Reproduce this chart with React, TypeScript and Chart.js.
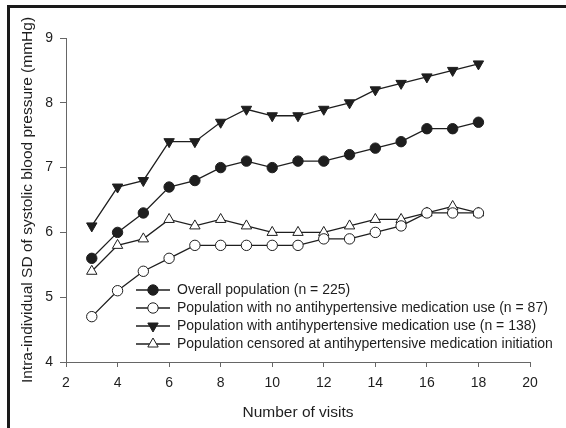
import React, { useEffect, useRef } from "react";
import { Chart, registerables } from "chart.js";

Chart.register(...registerables);

const visits = [3, 4, 5, 6, 7, 8, 9, 10, 11, 12, 13, 14, 15, 16, 17, 18];
const overall = [5.6, 6.0, 6.3, 6.7, 6.8, 7.0, 7.1, 7.0, 7.1, 7.1, 7.2, 7.3, 7.4, 7.6, 7.6, 7.7];
const noMed = [4.7, 5.1, 5.4, 5.6, 5.8, 5.8, 5.8, 5.8, 5.8, 5.9, 5.9, 6.0, 6.1, 6.3, 6.3, 6.3];
const withMed = [6.1, 6.7, 6.8, 7.4, 7.4, 7.7, 7.9, 7.8, 7.8, 7.9, 8.0, 8.2, 8.3, 8.4, 8.5, 8.6];
const censored = [5.4, 5.8, 5.9, 6.2, 6.1, 6.2, 6.1, 6.0, 6.0, 6.0, 6.1, 6.2, 6.2, 6.3, 6.4, 6.3];

const seriesLabels = [
  "Overall population (n = 225)",
  "Population with no antihypertensive medication use (n = 87)",
  "Population with antihypertensive medication use (n = 138)",
  "Population censored at antihypertensive medication initiation",
];

const xTitle = "Number of visits";
const yTitle = "Intra-individual SD of systolic blood pressure (mmHg)";

const FONT = "'Liberation Sans', Arial, sans-serif";
const INK = "#1e1e1e";

type Marker = { style: string; fill: string; radius: number; rotation: number };
const markers: Marker[] = [
  { style: "circle", fill: INK, radius: 5.2, rotation: 0 },
  { style: "circle", fill: "#ffffff", radius: 5.2, rotation: 0 },
  { style: "triangle", fill: INK, radius: 6, rotation: 180 },
  { style: "triangle", fill: "#ffffff", radius: 6, rotation: 0 },
];

function drawMarker(ctx: CanvasRenderingContext2D, m: Marker, x: number, y: number) {
  ctx.save();
  ctx.beginPath();
  if (m.style === "circle") {
    ctx.arc(x, y, m.radius, 0, Math.PI * 2);
  } else {
    const r = m.radius;
    const rot = (m.rotation * Math.PI) / 180;
    for (let i = 0; i < 3; i++) {
      const a = rot + (i * 2 * Math.PI) / 3;
      const px = x + Math.sin(a) * r;
      const py = y - Math.cos(a) * r;
      if (i === 0) ctx.moveTo(px, py);
      else ctx.lineTo(px, py);
    }
    ctx.closePath();
  }
  ctx.fillStyle = m.fill;
  ctx.fill();
  ctx.lineWidth = 1;
  ctx.strokeStyle = INK;
  ctx.stroke();
  ctx.restore();
}

const framePlugin = {
  id: "frameAndLegend",
  afterDraw(chart: any) {
    const ctx: CanvasRenderingContext2D = chart.ctx;
    ctx.save();
    // frame
    ctx.fillStyle = "#1a1a1a";
    ctx.fillRect(7, 5, 566 - 7, 3);
    ctx.fillRect(7, 5, 3, 428 - 5);
    // legend
    const rows = [290, 308, 326, 344];
    ctx.font = `14px ${FONT}`;
    ctx.textBaseline = "middle";
    ctx.textAlign = "left";
    seriesLabels.forEach((label, i) => {
      const y = rows[i];
      ctx.beginPath();
      ctx.moveTo(136, y);
      ctx.lineTo(170, y);
      ctx.strokeStyle = INK;
      ctx.lineWidth = 1.3;
      ctx.stroke();
      drawMarker(ctx, markers[i], 153, y);
      ctx.fillStyle = INK;
      ctx.fillText(label, 177, y + 0.5);
    });
    ctx.restore();
  },
};

export default function App() {
  const ref = useRef<HTMLCanvasElement>(null);
  useEffect(() => {
    document.body.style.margin = "0";
    const series = [overall, noMed, withMed, censored];
    const chart = new Chart(ref.current!, {
      type: "line",
      data: {
        datasets: series.map((vals, i) => ({
          label: seriesLabels[i],
          data: visits.map((v, j) => ({ x: v, y: vals[j] })),
          borderColor: INK,
          borderWidth: 1.3,
          pointStyle: markers[i].style as any,
          pointRadius: markers[i].radius,
          pointRotation: markers[i].rotation,
          pointBackgroundColor: markers[i].fill,
          pointBorderColor: INK,
          pointBorderWidth: 1,
          tension: 0,
          fill: false,
        })),
      },
      options: {
        animation: false,
        responsive: false,
        maintainAspectRatio: false,
        layout: { padding: { left: 0, top: 38, right: 36, bottom: 0 } },
        plugins: { legend: { display: false }, tooltip: { enabled: false } },
        scales: {
          x: {
            type: "linear",
            min: 2,
            max: 20,
            ticks: { stepSize: 2, color: INK, font: { family: FONT, size: 14 }, padding: 8 },
            grid: { drawOnChartArea: false, tickLength: 5, color: "#666", tickColor: "#666" },
            border: { color: "#666", width: 1 },
            title: {
              display: true,
              text: xTitle,
              color: INK,
              font: { family: FONT, size: 15.5 },
              padding: { top: 0, bottom: 6 },
            },
            afterFit: (s: any) => {
              s.height = 66;
            },
          },
          y: {
            min: 4,
            max: 9,
            ticks: { stepSize: 1, color: INK, font: { family: FONT, size: 14 }, padding: 7 },
            grid: { drawOnChartArea: false, tickLength: 6, color: "#666", tickColor: "#666" },
            border: { color: "#666", width: 1 },
            title: {
              display: true,
              text: yTitle,
              color: INK,
              font: { family: FONT, size: 15.5 },
              padding: { top: 18, bottom: 0 },
            },
            afterFit: (s: any) => {
              s.width = 66;
            },
          },
        },
      },
      plugins: [framePlugin],
    });
    return () => chart.destroy();
  }, []);
  return (
    <div style={{ position: "absolute", left: 0, top: 0, width: 566, height: 428, background: "#fff" }}>
      <canvas ref={ref} width={566} height={428} style={{ width: 566, height: 428, display: "block" }} />
    </div>
  );
}
